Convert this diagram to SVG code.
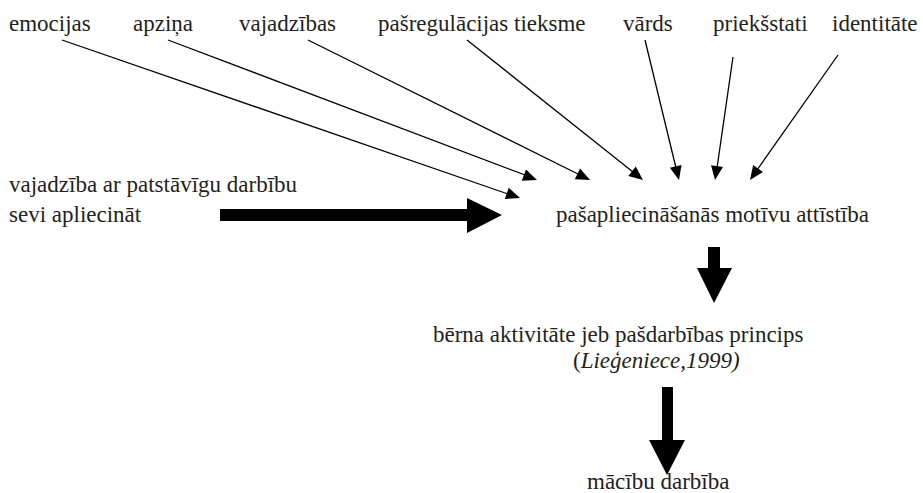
<svg xmlns="http://www.w3.org/2000/svg" width="923" height="493" viewBox="0 0 923 493">
<style>
text{font-size:23px;fill:#231f20}
.i{font-style:italic}
.thin{stroke:#000;stroke-width:1.3;fill:none}
.big{fill:#000}
</style>
<defs>
<path id="hd" d="M0,0 L-14,-6 L-14,6 Z" fill="#000"/>
</defs>
<rect width="923" height="493" fill="#fff"/>
<g id="n-emocijas"><text font-family="Liberation Serif" x="9" y="31">emocijas</text></g>
<g id="n-apzina"><text font-family="Liberation Serif" x="133" y="31">apziņa</text></g>
<g id="n-vajadzibas"><text font-family="Liberation Serif" x="239" y="31">vajadzības</text></g>
<g id="n-pasregulacijas"><text font-family="Liberation Serif" x="378" y="31">pašregulācijas tieksme</text></g>
<g id="n-vards"><text font-family="Liberation Serif" x="623" y="31">vārds</text></g>
<g id="n-prieksstati"><text font-family="Liberation Serif" x="713" y="31">priekšstati</text></g>
<g id="n-identitate"><text font-family="Liberation Serif" x="832" y="31">identitāte</text></g>
<g id="n-vajadziba"><text font-family="Liberation Serif" x="9" y="192">vajadzība ar patstāvīgu darbību</text><text font-family="Liberation Serif" x="9" y="222">sevi apliecināt</text></g>
<g id="n-motivi"><text font-family="Liberation Serif" x="556" y="222">pašapliecināšanās motīvu attīstība</text></g>
<g id="n-aktivitate"><text font-family="Liberation Serif" x="433" y="342">bērna aktivitāte jeb pašdarbības princips</text><text font-family="Liberation Serif" x="573" y="368">(<tspan class="i">Lieģeniece,1999)</tspan></text></g>
<g id="n-macibu"><text font-family="Liberation Serif" x="587" y="489">mācību darbība</text></g>
<g id="connectors">
<line class="thin" x1="62" y1="40" x2="508" y2="194"/>
<use href="#hd" transform="translate(520,198) rotate(19.03)"/>
<line class="thin" x1="168" y1="40" x2="525" y2="175"/>
<use href="#hd" transform="translate(537,180) rotate(20.78)"/>
<line class="thin" x1="308" y1="40" x2="578" y2="174"/>
<use href="#hd" transform="translate(590,180) rotate(26.4)"/>
<line class="thin" x1="467" y1="40" x2="633" y2="172"/>
<use href="#hd" transform="translate(643,180) rotate(38.5)"/>
<line class="thin" x1="645" y1="40" x2="676" y2="168"/>
<use href="#hd" transform="translate(679,180) rotate(76.3)"/>
<line class="thin" x1="733" y1="57" x2="717" y2="168"/>
<use href="#hd" transform="translate(715,180) rotate(98.3)"/>
<line class="thin" x1="838" y1="55" x2="757" y2="170"/>
<use href="#hd" transform="translate(750,180) rotate(125.1)"/>
<path class="big" d="M220,209 H467 V198 L502,215 L467,233 V221 H220 Z"/>
<path class="big" d="M708,247 H720 V268 H732 L714,303 L697,268 H708 Z"/>
<path class="big" d="M662,387 H673 V440 H685 L667,475 L649,440 H662 Z"/>
</g>
</svg>
